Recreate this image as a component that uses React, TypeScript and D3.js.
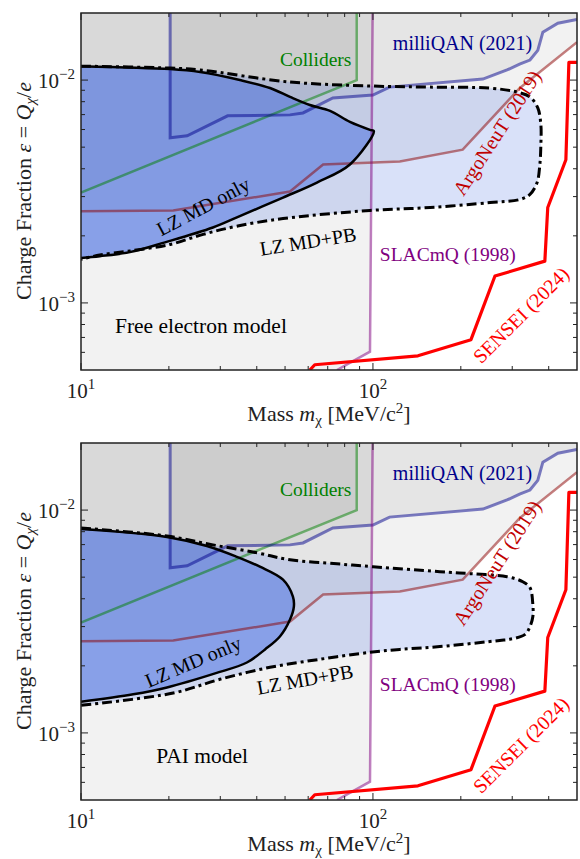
import React from 'react';
import * as d3 from 'd3';

type Pt = [number, number];

// axis ranges (mass in MeV/c^2, charge fraction)
const massDomain: [number, number] = [10, 500];
const epsDomain: [number, number] = [5e-4, 2e-2];
const massMajor = [10, 100];
const massMinor = [20, 30, 40, 50, 60, 70, 80, 90, 200, 300, 400];
const epsMajor = [1e-3, 1e-2];
const epsMinor = [6e-4, 7e-4, 8e-4, 9e-4, 2e-3, 3e-3, 4e-3, 5e-3, 6e-3, 7e-3, 8e-3, 9e-3];

// existing limits (same in both panels)
const milliqan: Pt[] = [
  [20.2, 0.03], [20.2, 5.51e-3], [23.1, 5.62e-3], [31.8, 6.91e-3], [52, 6.98e-3], [57.6, 7.12e-3],
  [72.9, 8.31e-3], [100, 8.57e-3], [114, 9.3e-3], [238, 1.01e-2], [288, 1.11e-2], [318, 1.18e-2],
  [345, 1.23e-2], [367, 1.36e-2], [382, 1.64e-2], [430, 1.8e-2], [500, 1.87e-2],
];
const argoneut: Pt[] = [
  [10, 2.58e-3], [20.7, 2.6e-3], [52, 3.16e-3], [67.5, 4.18e-3], [123.6, 4.31e-3],
  [203, 4.87e-3], [318, 9.2e-3], [500, 1.48e-2],
];
const colliders: Pt[] = [[10, 3.13e-3], [88, 1e-2], [88, 0.03]];
const slacmq: Pt[] = [[75.3, 5.0e-4], [97.7, 6.04e-4], [100, 0.03]];
const sensei: Pt[] = [
  [60.8, 5.0e-4], [63.2, 5.28e-4], [142.6, 5.79e-4], [216.7, 6.84e-4], [261.8, 1.32e-3],
  [388, 1.54e-3], [397, 2.68e-3], [458, 4.39e-3], [469, 1.2e-2], [560, 1.2e-2],
];

// LZ contours, free electron model
const freeMdOnly: Pt[] = [
  [10, 1.155e-2], [20.2, 1.12e-2], [25.6, 1.086e-2], [35, 1e-2], [44.4, 9.21e-3], [52, 8.4e-3],
  [60.8, 7.73e-3], [71.3, 7.27e-3], [83.4, 6.49e-3], [97.7, 5.98e-3], [100.7, 5.91e-3],
  [83.4, 4.18e-3], [64.3, 3.47e-3], [49.2, 2.97e-3], [34.2, 2.42e-3], [28.3, 2.18e-3],
  [19.4, 1.87e-3], [14.7, 1.69e-3], [11.6, 1.62e-3], [10, 1.59e-3],
];
const freeMdPb: Pt[] = [
  [10, 1.155e-2], [20.2, 1.132e-2], [25.6, 1.11e-2], [52, 9.8e-3], [100, 9.4e-3], [156.7, 9.3e-3],
  [251.8, 9.2e-3], [311, 8.84e-3], [345, 8.4e-3], [367, 7.5e-3], [376, 6.3e-3], [376, 5.13e-3],
  [373, 4.18e-3], [365, 3.47e-3], [345, 3.07e-3], [318, 2.91e-3], [252, 2.82e-3], [157, 2.68e-3],
  [97.7, 2.6e-3], [49.2, 2.39e-3], [34.2, 2.21e-3], [26.2, 2.03e-3], [20.2, 1.83e-3],
  [14.7, 1.71e-3], [11.6, 1.64e-3], [10, 1.57e-3],
];

// LZ contours, PAI model
const paiMdOnly: Pt[] = [
  [10, 8.23e-3], [19.7, 7.58e-3], [27, 6.9e-3], [34.2, 6.17e-3], [41, 5.57e-3], [49.2, 4.87e-3],
  [53.2, 4.09e-3], [53.6, 3.69e-3], [52, 3.23e-3], [48, 2.71e-3], [42.7, 2.37e-3], [37, 2.07e-3],
  [28.8, 1.85e-3], [19.7, 1.6e-3], [15.1, 1.49e-3], [10, 1.38e-3],
];
const paiMdPb: Pt[] = [
  [10, 8.31e-3], [19.7, 7.65e-3], [28.3, 6.98e-3], [40.1, 6.43e-3], [52, 5.98e-3], [75.3, 5.74e-3],
  [100, 5.57e-3], [169.5, 5.29e-3], [216.7, 5.18e-3], [288, 5.02e-3], [326, 4.77e-3], [345, 4.49e-3],
  [353, 3.76e-3], [353, 3.33e-3], [345, 3e-3], [332, 2.77e-3], [294, 2.63e-3], [272, 2.6e-3],
  [169.5, 2.44e-3], [123.6, 2.37e-3], [97.7, 2.3e-3], [65.8, 2.14e-3], [44.4, 1.97e-3],
  [29.9, 1.74e-3], [20.7, 1.51e-3], [10, 1.33e-3],
];

const SERIF = "'Liberation Serif', 'DejaVu Serif', serif";
const LEFT = 81;
const RIGHT = 577;

type Label = { m: number; e: number; rot: number };
type PanelProps = {
  top: number;
  bottom: number;
  mdOnly: Pt[];
  mdPb: Pt[];
  model: string;
  modelAt: [number, number];
  mdOnlyLab: Label;
  mdPbLab: Label;
};

function Panel({ top, bottom, mdOnly, mdPb, model, modelAt, mdOnlyLab, mdPbLab }: PanelProps) {
  const x = d3.scaleLog().domain(massDomain).range([LEFT, RIGHT]);
  const y = d3.scaleLog().domain(epsDomain).range([bottom, top]);
  const line = d3.line<Pt>().x(d => x(d[0])).y(d => y(d[1]));
  const smooth = d3.line<Pt>().x(d => x(d[0])).y(d => y(d[1])).curve(d3.curveCatmullRom.alpha(0.5));
  const clip = `clip-${top}`;

  // exclusion regions as polygons
  const aLast = argoneut[argoneut.length - 1];
  const argFill: Pt[] = [[1, argoneut[0][1]], ...argoneut, [1e4, aLast[1]], [1e4, 1], [1, 1]];
  const mLast = milliqan[milliqan.length - 1];
  const milFill: Pt[] = [[milliqan[0][0], 1], ...milliqan, [1e4, mLast[1]], [1e4, 1]];
  const colFill: Pt[] = [[1, colliders[0][1]], ...colliders, [colliders[2][0], 1], [1, 1]];
  const slacFill: Pt[] = [[slacmq[0][0], 1e-5], ...slacmq, [slacmq[2][0], 1], [1, 1], [1, 1e-5]];

  const gray = { fill: '#000', fillOpacity: 0.05 };

  const lab = (l: Label, text: string, fill: string, size = 20) => (
    <text x={0} y={0} transform={`translate(${x(l.m)},${y(l.e)}) rotate(${l.rot})`}
      textAnchor="middle" dominantBaseline="central" fill={fill} fontSize={size}>{text}</text>
  );

  const tickLen = (major: boolean) => (major ? 7 : 4);

  return (
    <g fontFamily={SERIF}>
      <defs>
        <clipPath id={clip}>
          <rect x={LEFT} y={top} width={RIGHT - LEFT} height={bottom - top} />
        </clipPath>
      </defs>
      <g clipPath={`url(#${clip})`}>
        <path d={line(slacFill) || ''} {...gray} />
        <path d={line(argFill) || ''} {...gray} />
        <path d={line(milFill) || ''} {...gray} />
        <path d={line(colFill) || ''} {...gray} />

        <path d={(smooth(mdPb) || '') + 'Z'} fill="royalblue" fillOpacity={0.2} />
        <path d={(smooth(mdOnly) || '') + 'Z'} fill="royalblue" fillOpacity={0.5} />

        <path d={line(colliders) || ''} fill="none" stroke="green" strokeOpacity={0.5} strokeWidth={2.5} />
        <path d={line(milliqan) || ''} fill="none" stroke="darkblue" strokeOpacity={0.5} strokeWidth={3} />
        <path d={line(argoneut) || ''} fill="none" stroke="darkred" strokeOpacity={0.5} strokeWidth={2.5} />
        <path d={line(slacmq) || ''} fill="none" stroke="purple" strokeOpacity={0.5} strokeWidth={2.5} />
        <path d={line(sensei) || ''} fill="none" stroke="red" strokeWidth={3.2} strokeLinejoin="round" />

        <path d={smooth(mdPb) || ''} fill="none" stroke="#000" strokeWidth={3} strokeDasharray="10,4,3,4" />
        <path d={smooth(mdOnly) || ''} fill="none" stroke="#000" strokeWidth={2.5} />
      </g>

      {/* labels */}
      <text x={x(48)} y={y(0.01155)} fill="green" fontSize={19.5}>Colliders</text>
      <text x={x(117)} y={y(0.0136)} fill="darkblue" fontSize={20}>milliQAN (2021)</text>
      <text x={x(105.6)} y={y(1.54e-3)} fill="purple" fontSize={19.5}>SLACmQ (1998)</text>
      {lab({ m: 266, e: 5.8e-3, rot: -57 }, 'ArgoNeuT (2019)', '#c00000')}
      {lab({ m: 321, e: 8.83e-4, rot: -45 }, 'SENSEI (2024)', 'red')}
      {lab(mdOnlyLab, 'LZ MD only', '#000')}
      {lab(mdPbLab, 'LZ MD+PB', '#000')}
      <text x={x(modelAt[0])} y={y(modelAt[1])} fill="#000" fontSize={21.5}>{model}</text>

      {/* frame and ticks */}
      <rect x={LEFT} y={top} width={RIGHT - LEFT} height={bottom - top} fill="none" stroke="#222" strokeWidth={1.5} />
      {[...massMajor.map(v => [v, true] as const), ...massMinor.map(v => [v, false] as const)].map(([v, maj]) => (
        <g key={`x${v}`} stroke="#222" strokeWidth={1}>
          <line x1={x(v)} x2={x(v)} y1={bottom} y2={bottom - tickLen(maj)} />
          <line x1={x(v)} x2={x(v)} y1={top} y2={top + tickLen(maj)} />
        </g>
      ))}
      {[...epsMajor.map(v => [v, true] as const), ...epsMinor.map(v => [v, false] as const)].map(([v, maj]) => (
        <g key={`y${v}`} stroke="#222" strokeWidth={1}>
          <line y1={y(v)} y2={y(v)} x1={LEFT} x2={LEFT + tickLen(maj)} />
          <line y1={y(v)} y2={y(v)} x1={RIGHT} x2={RIGHT - tickLen(maj)} />
        </g>
      ))}
      {massMajor.map(v => (
        <text key={`xl${v}`} x={x(v)} y={bottom + 28} textAnchor="middle" fontSize={21} fill="#222">
          10<tspan dy={-9} fontSize={15}>{Math.round(Math.log10(v))}</tspan>
        </text>
      ))}
      {epsMajor.map(v => (
        <text key={`yl${v}`} x={LEFT - 6} y={y(v) + 8} textAnchor="end" fontSize={21} fill="#222">
          10<tspan dy={-9} fontSize={15}>{'\u2212' + Math.round(-Math.log10(v))}</tspan>
        </text>
      ))}

      {/* axis titles */}
      <text x={329} y={bottom + 51} textAnchor="middle" fontSize={22} fill="#222">
        Mass <tspan fontStyle="italic">m</tspan><tspan dy={4} fontSize={15}>χ</tspan>
        <tspan dy={-4}> [MeV/c</tspan><tspan dy={-8} fontSize={15}>2</tspan><tspan dy={8}>]</tspan>
      </text>
      <text transform={`translate(31,${top + 178}) rotate(-90)`} textAnchor="middle" fontSize={22} fill="#222">
        Charge Fraction <tspan fontStyle="italic">ε</tspan> = <tspan fontStyle="italic">Q</tspan>
        <tspan dy={4} fontSize={15} fontStyle="italic">χ</tspan><tspan dy={-4}>/</tspan>
        <tspan fontStyle="italic">e</tspan>
      </text>
    </g>
  );
}

export default function App() {
  return (
    <svg width={580} height={859} style={{ display: 'block', position: 'absolute', left: 0, top: 0, background: '#fff' }}>
      <Panel top={13} bottom={370} mdOnly={freeMdOnly} mdPb={freeMdPb}
        model="Free electron model" modelAt={[13.07, 7.35e-4]}
        mdOnlyLab={{ m: 26.2, e: 2.71e-3, rot: -28 }} mdPbLab={{ m: 59.9, e: 1.89e-3, rot: -9 }} />
      <Panel top={443} bottom={800} mdOnly={paiMdOnly} mdPb={paiMdPb}
        model="PAI model" modelAt={[18.1, 7.35e-4]}
        mdOnlyLab={{ m: 24.2, e: 2.09e-3, rot: -23 }} mdPbLab={{ m: 58.5, e: 1.74e-3, rot: -10 }} />
    </svg>
  );
}
